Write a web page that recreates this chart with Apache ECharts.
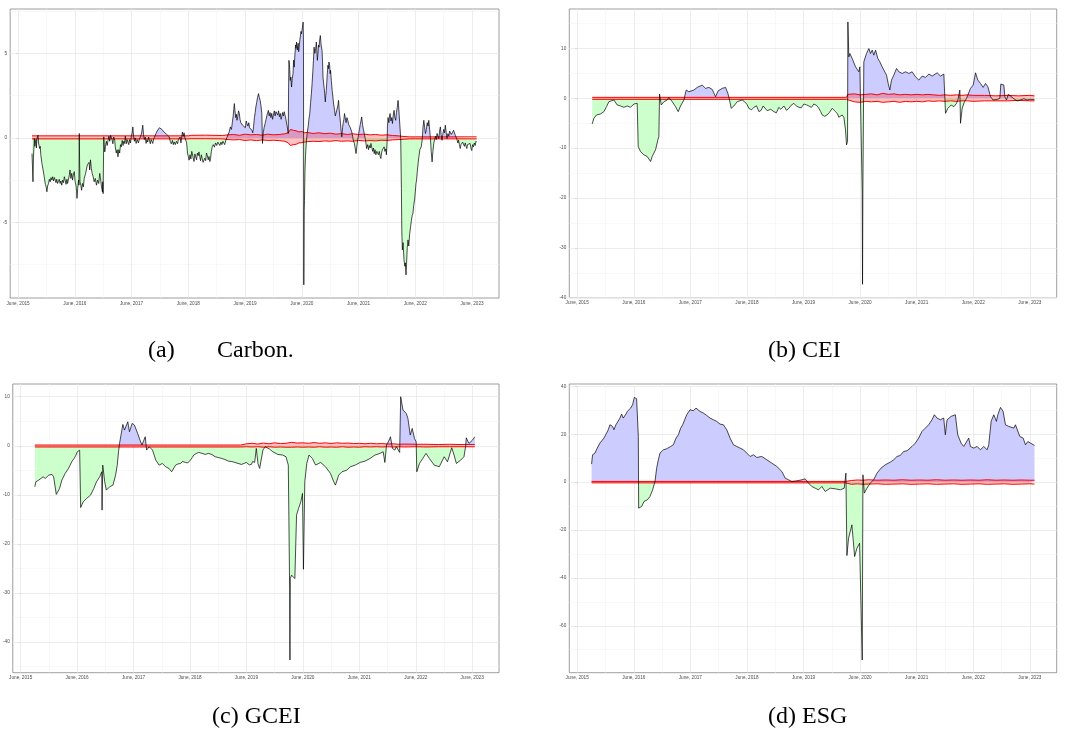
<!DOCTYPE html>
<html><head><meta charset="utf-8">
<script src="https://cdn.jsdelivr.net/npm/echarts@6/dist/echarts.min.js"></script>
<style>html,body{margin:0;padding:0;background:#fff}#c{width:1065px;height:743px}</style>
</head><body><div id="c"></div><script>
// x values: years since June 2015
const xTicks = [0,1,2,3,4,5,6,7,8];
const xTickLabels = ['June, 2015','June, 2016','June, 2017','June, 2018','June, 2019','June, 2020','June, 2021','June, 2022','June, 2023'];
const xMinor = [0.5,1.5,2.5,3.5,4.5,5.5,6.5,7.5];

const yTicksCarbon = [5,0,-5];        const yMinorCarbon = [7.5,2.5,-2.5,-7.5];
const yTicksCEI = [10,0,-10,-20,-30,-40]; const yMinorCEI = [15,5,-5,-15,-25,-35];
const yTicksGCEI = [10,0,-10,-20,-30,-40]; const yMinorGCEI = [5,-5,-15,-25,-35,-45];
const yTicksESG = [40,20,0,-20,-40,-60]; const yMinorESG = [30,10,-10,-30,-50,-70];

const captions = ['(a)', 'Carbon.', '(b) CEI', '(c) GCEI', '(d) ESG'];

const carbon = [[0.245,-0.93],[0.252,-1.6],[0.262,-2.6],[0.27,-1.2],[0.286,-0.04],[0.295,-0.5],[0.303,-0.33],[0.315,-0.1],[0.322,-0.6],[0.332,-0.04],[0.35,0.16],[0.36,-0.3],[0.379,-0.63],[0.39,-0.5],[0.4,-1.0],[0.42,-1.52],[0.44,-1.9],[0.46,-2.3],[0.48,-2.75],[0.494,-2.9],[0.507,-3.19],[0.52,-2.85],[0.536,-2.7],[0.55,-2.45],[0.565,-2.6],[0.58,-2.35],[0.594,-2.5],[0.61,-2.3],[0.625,-2.55],[0.64,-2.35],[0.653,-2.4],[0.668,-2.65],[0.68,-2.45],[0.695,-2.7],[0.711,-2.6],[0.725,-2.45],[0.74,-2.7],[0.755,-2.55],[0.769,-2.8],[0.785,-2.5],[0.8,-2.65],[0.815,-2.3],[0.828,-2.4],[0.845,-2.75],[0.86,-2.45],[0.872,-2.7],[0.886,-2.6],[0.9,-2.25],[0.915,-1.9],[0.93,-2.4],[0.945,-2.1],[0.96,-2.5],[0.973,-2.2],[0.99,-2.0],[1.005,-2.6],[1.02,-2.8],[1.031,-3.2],[1.037,-3.58],[1.05,-3.0],[1.066,-2.5],[1.072,-2.8],[1.078,0.26],[1.084,-1.5],[1.09,-2.6],[1.105,-2.8],[1.119,-3.1],[1.135,-2.7],[1.15,-2.9],[1.165,-2.4],[1.177,-2.5],[1.19,-2.1],[1.205,-2.0],[1.22,-1.6],[1.235,-1.7],[1.25,-1.45],[1.262,-1.9],[1.276,-1.3],[1.29,-1.8],[1.305,-2.1],[1.323,-2.3],[1.34,-2.6],[1.36,-2.4],[1.381,-2.8],[1.4,-2.5],[1.42,-2.7],[1.439,-2.1],[1.455,-2.5],[1.47,-2.9],[1.486,-3.2],[1.492,-2.6],[1.498,-3.3],[1.509,0.06],[1.518,-0.4],[1.527,-0.83],[1.54,-0.5],[1.555,-0.2],[1.57,-0.45],[1.585,-0.14],[1.6,0.1],[1.615,-0.2],[1.63,0.15],[1.643,0.26],[1.655,-0.1],[1.67,-0.35],[1.685,0.05],[1.702,-0.14],[1.715,-0.6],[1.73,-0.9],[1.745,-0.7],[1.76,-1.12],[1.775,-0.7],[1.79,-0.9],[1.805,-0.4],[1.818,-0.53],[1.835,-0.15],[1.85,-0.45],[1.862,-0.2],[1.876,-0.33],[1.89,0.1],[1.905,-0.35],[1.92,-0.1],[1.935,-0.14],[1.95,-0.4],[1.965,-0.1],[1.98,-0.3],[1.995,0.1],[2.01,0.3],[2.022,0.65],[2.035,0.1],[2.05,-0.2],[2.065,0.0],[2.08,-0.33],[2.1,-0.1],[2.12,-0.3],[2.14,-0.05],[2.16,0.1],[2.18,0.35],[2.197,0.75],[2.21,0.2],[2.225,-0.1],[2.24,0.05],[2.255,-0.33],[2.27,-0.1],[2.285,-0.25],[2.3,0.05],[2.314,-0.14],[2.33,-0.35],[2.345,-0.1],[2.36,-0.2],[2.372,-0.33],[2.39,-0.05],[2.41,0.1],[2.43,0.26],[2.45,0.4],[2.47,0.5],[2.49,0.6],[2.505,0.55],[2.517,0.69],[2.535,0.5],[2.55,0.55],[2.57,0.35],[2.59,0.4],[2.605,0.35],[2.62,0.2],[2.64,0.25],[2.663,0.06],[2.68,-0.2],[2.7,-0.35],[2.72,-0.15],[2.735,-0.4],[2.751,-0.24],[2.77,-0.4],[2.79,-0.2],[2.81,-0.35],[2.825,-0.1],[2.838,-0.14],[2.855,0.05],[2.87,-0.3],[2.885,0.1],[2.896,0.35],[2.91,0.1],[2.925,0.3],[2.94,0.0],[2.955,0.06],[2.97,-0.3],[2.985,-0.9],[3.0,-1.1],[3.013,-1.32],[3.03,-1.0],[3.045,-1.25],[3.06,-0.8],[3.071,-0.93],[3.085,-1.2],[3.1,-1.4],[3.115,-0.95],[3.129,-1.12],[3.145,-1.3],[3.16,-0.9],[3.175,-1.05],[3.188,-0.83],[3.2,-1.1],[3.215,-1.35],[3.23,-1.0],[3.245,-1.25],[3.26,-1.45],[3.275,-1.52],[3.29,-1.2],[3.305,-1.35],[3.32,-0.9],[3.333,-1.02],[3.35,-1.3],[3.365,-1.1],[3.38,-1.4],[3.392,-1.22],[3.405,-0.8],[3.421,-0.53],[3.44,-0.4],[3.46,-0.55],[3.48,-0.3],[3.5,-0.45],[3.52,-0.25],[3.537,-0.33],[3.555,-0.45],[3.575,-0.25],[3.59,-0.4],[3.61,-0.2],[3.625,-0.24],[3.64,-0.4],[3.66,-0.15],[3.683,-0.04],[3.7,0.2],[3.72,0.35],[3.741,0.65],[3.76,0.5],[3.775,0.9],[3.79,1.3],[3.801,1.7],[3.811,2.03],[3.822,1.6],[3.835,1.2],[3.846,1.4],[3.858,1.04],[3.87,1.25],[3.885,1.6],[3.899,1.44],[3.91,1.1],[3.925,0.9],[3.94,1.0],[3.955,0.75],[3.974,0.65],[3.99,0.8],[4.005,0.6],[4.02,1.0],[4.033,0.85],[4.05,0.7],[4.065,0.9],[4.08,0.6],[4.1,0.5],[4.12,0.45],[4.135,0.3],[4.149,0.65],[4.165,1.2],[4.178,1.5],[4.19,1.83],[4.205,2.1],[4.22,2.4],[4.237,2.62],[4.25,2.4],[4.266,2.22],[4.28,1.9],[4.295,1.44],[4.307,-0.33],[4.32,0.3],[4.335,0.6],[4.353,0.85],[4.37,1.1],[4.39,1.4],[4.411,1.63],[4.425,1.3],[4.44,1.5],[4.455,1.2],[4.47,1.45],[4.485,1.1],[4.499,1.34],[4.515,1.6],[4.53,1.3],[4.545,1.55],[4.557,1.54],[4.575,1.35],[4.59,1.6],[4.605,1.25],[4.62,1.45],[4.635,1.1],[4.645,1.24],[4.66,1.5],[4.675,1.3],[4.69,1.55],[4.703,1.44],[4.72,1.1],[4.735,0.8],[4.744,0.65],[4.755,0.4],[4.761,0.26],[4.767,3.0],[4.773,4.59],[4.785,4.2],[4.795,3.4],[4.807,3.6],[4.819,3.01],[4.83,3.5],[4.845,3.8],[4.855,4.6],[4.866,4.19],[4.878,4.9],[4.89,5.5],[4.898,5.3],[4.907,5.67],[4.92,5.2],[4.935,5.6],[4.945,5.1],[4.953,5.37],[4.965,5.8],[4.978,5.9],[4.985,6.3],[4.994,6.16],[5.005,6.4],[5.015,6.5],[5.023,6.85],[5.029,5.8],[5.035,-8.7],[5.041,-4.3],[5.047,-3.7],[5.055,-2.0],[5.064,-1.12],[5.073,-0.6],[5.082,-0.14],[5.095,0.3],[5.111,0.65],[5.125,1.1],[5.14,1.44],[5.155,2.1],[5.168,2.6],[5.181,3.21],[5.195,4.0],[5.205,4.6],[5.216,5.37],[5.23,5.0],[5.245,5.3],[5.256,5.67],[5.265,5.2],[5.274,4.59],[5.285,5.0],[5.294,5.5],[5.303,5.37],[5.315,5.8],[5.326,6.06],[5.34,5.5],[5.356,5.18],[5.365,4.5],[5.373,3.6],[5.385,3.2],[5.395,2.9],[5.402,2.62],[5.414,2.13],[5.422,2.5],[5.431,2.81],[5.44,3.3],[5.449,3.8],[5.46,4.3],[5.47,4.1],[5.478,4.49],[5.49,4.3],[5.498,3.8],[5.507,4.0],[5.52,3.4],[5.535,2.8],[5.548,2.42],[5.56,2.0],[5.57,1.8],[5.577,1.63],[5.59,1.3],[5.606,1.24],[5.62,1.7],[5.635,1.9],[5.647,2.22],[5.66,1.6],[5.672,1.2],[5.682,0.85],[5.693,0.4],[5.705,0.06],[5.718,0.6],[5.73,0.9],[5.742,1.1],[5.752,1.44],[5.765,1.2],[5.78,0.9],[5.795,1.2],[5.81,1.04],[5.825,0.8],[5.84,0.9],[5.855,0.6],[5.868,0.5],[5.88,0.35],[5.895,0.1],[5.91,-0.2],[5.927,-0.33],[5.94,-0.6],[5.956,-0.93],[5.97,-0.5],[5.985,-0.1],[6.0,0.2],[6.015,0.5],[6.03,0.8],[6.042,1.0],[6.055,1.24],[6.07,0.8],[6.085,0.5],[6.101,0.26],[6.115,0.0],[6.13,-0.3],[6.142,-0.63],[6.16,-0.4],[6.175,-0.7],[6.19,-0.45],[6.205,-0.6],[6.218,-0.33],[6.235,-0.6],[6.25,-0.8],[6.262,-0.6],[6.276,-0.93],[6.29,-0.7],[6.305,-1.0],[6.32,-0.8],[6.335,-0.73],[6.35,-1.0],[6.365,-0.8],[6.38,-1.1],[6.393,-1.22],[6.405,-0.9],[6.42,-0.7],[6.435,-0.8],[6.451,-0.53],[6.465,-0.8],[6.48,-0.65],[6.49,-1.0],[6.498,-0.93],[6.504,-0.2],[6.509,0.65],[6.52,1.2],[6.535,0.9],[6.545,1.3],[6.556,1.44],[6.57,1.0],[6.585,1.2],[6.597,0.85],[6.61,1.3],[6.626,1.63],[6.64,1.2],[6.655,1.04],[6.668,1.5],[6.682,1.8],[6.696,2.22],[6.705,1.9],[6.715,2.0],[6.731,1.83],[6.743,-0.04],[6.755,-3.0],[6.762,-5.5],[6.772,-6.63],[6.785,-6.2],[6.801,-7.22],[6.815,-7.6],[6.825,-7.4],[6.836,-8.11],[6.845,-7.5],[6.858,-6.5],[6.871,-6.04],[6.885,-6.4],[6.9,-5.7],[6.917,-5.26],[6.93,-4.9],[6.945,-4.6],[6.958,-4.47],[6.972,-4.0],[6.987,-3.68],[7.0,-3.2],[7.012,-2.7],[7.022,-2.5],[7.035,-2.0],[7.05,-1.5],[7.063,-1.12],[7.08,-0.7],[7.095,-0.8],[7.104,-0.53],[7.121,-0.14],[7.135,0.6],[7.15,1.04],[7.165,0.6],[7.179,0.26],[7.195,0.5],[7.21,0.9],[7.225,0.7],[7.238,1.04],[7.255,0.4],[7.267,-0.04],[7.28,-0.8],[7.296,-1.42],[7.31,-0.8],[7.325,-0.33],[7.34,-0.1],[7.355,0.1],[7.37,-0.1],[7.383,0.26],[7.398,0.1],[7.413,-0.04],[7.428,0.4],[7.442,0.65],[7.455,0.2],[7.471,-0.14],[7.485,0.2],[7.5,0.5],[7.515,0.3],[7.529,0.75],[7.545,0.3],[7.558,-0.04],[7.575,0.25],[7.59,0.1],[7.605,0.4],[7.617,0.35],[7.635,0.2],[7.65,0.3],[7.662,0.1],[7.675,0.45],[7.69,0.3],[7.704,0.16],[7.72,0.05],[7.735,-0.1],[7.75,-0.3],[7.762,-0.14],[7.777,-0.4],[7.792,-0.63],[7.805,-0.4],[7.82,-0.5],[7.835,-0.25],[7.85,-0.33],[7.865,-0.5],[7.88,-0.3],[7.895,-0.5],[7.908,-0.63],[7.92,-0.4],[7.935,-0.3],[7.95,-0.5],[7.966,-0.33],[7.98,-0.6],[7.995,-0.75],[8.01,-0.4],[8.024,-0.53],[8.04,-0.3],[8.055,-0.45],[8.07,-0.2],[8.082,-0.24]];

const cei = [[0.265,-5.13],[0.295,-4.0],[0.342,-3.33],[0.412,-3.13],[0.471,-2.67],[0.518,-1.67],[0.56,-0.67],[0.589,-1.0],[0.648,-0.33],[0.707,-1.33],[0.766,-1.53],[0.825,-1.8],[0.884,-1.53],[0.943,-1.8],[1.001,-1.13],[1.06,-1.0],[1.078,-9.67],[1.119,-10.67],[1.178,-11.33],[1.237,-11.67],[1.296,-12.67],[1.325,-11.67],[1.384,-10.33],[1.426,-8.33],[1.443,-7.67],[1.455,0.87],[1.485,-1.33],[1.532,-0.67],[1.591,-0.33],[1.62,0.2],[1.679,-0.67],[1.738,-1.67],[1.785,-2.67],[1.826,-1.53],[1.885,-0.33],[1.926,1.67],[1.973,1.33],[2.062,1.67],[2.121,2.2],[2.209,2.67],[2.268,2.0],[2.327,2.2],[2.386,1.8],[2.445,0.33],[2.492,1.53],[2.563,2.0],[2.622,2.2],[2.663,1.0],[2.692,-0.33],[2.722,-2.0],[2.769,-1.53],[2.828,-0.67],[2.916,-0.33],[2.957,-0.67],[3.0,-1.2],[3.034,-2.0],[3.08,-2.3],[3.122,-1.8],[3.17,-1.5],[3.211,-2.67],[3.25,-2.4],[3.287,-1.53],[3.32,-1.9],[3.358,-2.47],[3.42,-2.2],[3.476,-2.67],[3.52,-2.9],[3.564,-1.8],[3.6,-2.2],[3.653,-1.53],[3.7,-2.4],[3.741,-2.0],[3.78,-1.4],[3.829,-1.0],[3.87,-1.5],[3.918,-1.8],[3.96,-1.9],[4.006,-1.13],[4.05,-1.3],[4.094,-1.53],[4.14,-1.8],[4.183,-1.13],[4.23,-1.4],[4.271,-2.0],[4.3,-2.6],[4.33,-3.33],[4.37,-3.6],[4.418,-3.33],[4.46,-2.8],[4.507,-2.0],[4.54,-2.2],[4.566,-2.67],[4.6,-3.1],[4.624,-3.8],[4.65,-3.5],[4.683,-3.33],[4.7,-3.2],[4.713,-3.8],[4.742,-6.33],[4.76,-9.33],[4.778,-8.67],[4.784,15.33],[4.801,8.33],[4.819,9.0],[4.86,8.0],[4.89,7.67],[4.919,6.33],[4.948,6.67],[4.978,5.33],[4.996,6.33],[5.019,6.67],[5.037,-18.6],[5.043,-37.3],[5.049,-18.6],[5.066,7.33],[5.113,9.0],[5.155,10.0],[5.184,9.0],[5.214,9.67],[5.243,8.67],[5.273,9.67],[5.314,8.0],[5.349,7.33],[5.39,6.33],[5.42,6.0],[5.467,4.67],[5.496,3.0],[5.526,1.67],[5.555,3.67],[5.596,4.67],[5.644,6.0],[5.685,5.33],[5.744,5.0],[5.803,5.33],[5.862,5.0],[5.92,5.33],[5.979,4.33],[6.038,3.67],[6.097,4.47],[6.156,4.2],[6.215,4.87],[6.274,4.47],[6.362,5.13],[6.421,4.47],[6.48,4.87],[6.492,4.67],[6.51,-3.0],[6.551,-2.0],[6.61,-1.33],[6.657,-1.67],[6.704,-1.0],[6.728,-0.33],[6.763,1.67],[6.775,-5.0],[6.804,-2.0],[6.845,-0.67],[6.881,0.0],[6.91,0.33],[6.951,2.0],[6.999,2.67],[7.04,5.13],[7.081,3.67],[7.128,3.0],[7.175,2.2],[7.217,3.0],[7.258,2.33],[7.305,0.33],[7.352,-0.33],[7.423,-0.2],[7.47,0.0],[7.487,2.87],[7.541,2.67],[7.558,0.33],[7.588,-0.33],[7.617,0.8],[7.658,0.47],[7.717,-0.07],[7.776,-0.53],[7.835,-0.33],[7.894,-0.07],[7.953,-0.33],[8.012,-0.2],[8.082,-0.27]];

const gcei = [[0.251,-8.37],[0.269,-7.35],[0.321,-7.0],[0.35,-7.2],[0.397,-6.33],[0.438,-6.67],[0.496,-5.99],[0.555,-5.85],[0.584,-6.33],[0.596,-5.99],[0.613,-6.67],[0.631,-9.93],[0.654,-9.73],[0.689,-8.71],[0.73,-7.0],[0.788,-5.65],[0.847,-4.63],[0.905,-3.27],[0.946,-2.59],[0.981,-1.9],[1.004,-1.22],[1.045,-0.9],[1.063,-12.6],[1.109,-11.43],[1.168,-10.75],[1.238,-10.07],[1.296,-8.71],[1.343,-7.35],[1.401,-6.33],[1.436,-5.31],[1.442,-13.13],[1.454,-3.95],[1.489,-7.35],[1.518,-9.05],[1.577,-8.37],[1.635,-8.03],[1.682,-5.99],[1.711,-3.95],[1.734,-1.22],[1.752,0.48],[1.781,0.82],[1.81,4.35],[1.839,3.2],[1.898,4.9],[1.927,2.86],[1.974,4.56],[2.015,4.22],[2.073,2.52],[2.114,1.16],[2.149,0.14],[2.207,1.84],[2.231,-0.88],[2.277,-0.2],[2.336,-0.88],[2.394,-2.93],[2.453,-3.95],[2.511,-3.61],[2.569,-4.29],[2.628,-4.63],[2.674,-5.31],[2.745,-3.95],[2.79,-3.7],[2.832,-3.61],[2.87,-3.2],[2.92,-3.4],[2.96,-3.5],[3.007,-2.93],[3.04,-2.4],[3.066,-1.9],[3.11,-1.6],[3.153,-1.36],[3.2,-1.5],[3.27,-1.77],[3.3,-1.9],[3.328,-1.56],[3.39,-1.8],[3.445,-2.24],[3.5,-2.4],[3.562,-2.59],[3.62,-2.8],[3.679,-3.13],[3.73,-3.2],[3.796,-3.4],[3.85,-3.6],[3.912,-3.81],[3.96,-3.6],[4.0,-3.4],[4.05,-3.9],[4.088,-3.81],[4.11,-3.2],[4.146,-3.4],[4.175,-0.54],[4.204,-3.61],[4.234,-4.63],[4.292,-0.88],[4.333,-0.2],[4.409,-0.68],[4.467,-1.22],[4.555,-1.77],[4.642,-1.9],[4.701,-2.24],[4.742,-3.95],[4.753,-15.5],[4.765,-29.1],[4.771,-43.7],[4.777,-27.1],[4.8,-26.4],[4.835,-26.05],[4.858,-27.1],[4.888,-14.15],[4.923,-12.8],[4.964,-11.43],[4.993,-9.73],[5.01,-25.2],[5.022,-16.2],[5.034,-7.35],[5.069,-3.61],[5.109,-1.9],[5.168,-2.59],[5.226,-3.95],[5.314,-3.4],[5.401,-4.29],[5.489,-5.65],[5.547,-7.35],[5.577,-8.03],[5.635,-5.99],[5.693,-5.31],[5.781,-4.97],[5.839,-4.29],[5.927,-3.95],[6.015,-3.4],[6.102,-3.13],[6.19,-2.59],[6.277,-1.9],[6.365,-1.56],[6.423,-1.22],[6.453,-3.4],[6.482,0.14],[6.528,1.16],[6.552,1.84],[6.587,-0.54],[6.628,-0.88],[6.657,-0.2],[6.715,-1.36],[6.733,10.0],[6.774,7.28],[6.832,6.6],[6.861,5.58],[6.902,2.18],[6.937,3.54],[6.978,1.5],[7.007,0.82],[7.019,-5.31],[7.066,-3.61],[7.124,-2.59],[7.182,-1.56],[7.241,-2.59],[7.328,-3.95],[7.416,-4.29],[7.504,-2.24],[7.562,-3.27],[7.591,-2.93],[7.638,-0.41],[7.679,-1.9],[7.72,-3.61],[7.796,-2.93],[7.854,-2.24],[7.883,-0.2],[7.895,1.63],[7.942,0.48],[8.0,1.09],[8.047,1.84]];

const esg = [[0.254,7.53],[0.271,11.43],[0.313,12.13],[0.354,14.22],[0.401,16.31],[0.431,16.31],[0.472,18.4],[0.519,20.49],[0.549,21.88],[0.578,23.97],[0.625,23.28],[0.649,21.88],[0.684,23.97],[0.708,23.28],[0.755,26.76],[0.785,28.43],[0.814,26.76],[0.861,28.43],[0.885,29.55],[0.944,30.94],[0.979,32.33],[1.009,35.4],[1.05,34.84],[1.074,34.43],[1.08,19.09],[1.086,-10.87],[1.097,-11.57],[1.139,-10.17],[1.18,-8.08],[1.239,-7.39],[1.286,-5.99],[1.333,-3.21],[1.375,0.28],[1.404,5.85],[1.434,9.34],[1.463,12.13],[1.522,13.52],[1.581,13.94],[1.652,14.91],[1.699,15.61],[1.746,18.4],[1.788,19.79],[1.829,22.58],[1.864,23.97],[1.935,28.15],[1.994,30.24],[2.053,29.83],[2.1,30.94],[2.171,29.55],[2.23,28.85],[2.289,27.87],[2.348,26.76],[2.407,26.06],[2.466,25.37],[2.525,24.25],[2.584,23.97],[2.643,21.88],[2.702,18.4],[2.761,15.61],[2.82,14.91],[2.879,14.22],[2.938,13.52],[2.997,12.13],[3.056,10.73],[3.115,11.43],[3.174,10.31],[3.263,10.73],[3.351,9.34],[3.44,7.94],[3.528,6.55],[3.617,4.46],[3.676,1.67],[3.735,0.98],[3.794,0.28],[3.882,0.56],[3.971,0.98],[4.029,1.39],[4.088,-0.42],[4.147,-1.81],[4.206,-2.51],[4.265,-3.21],[4.324,-1.81],[4.383,-3.9],[4.472,-2.51],[4.56,-2.79],[4.649,-3.21],[4.72,-2.51],[4.749,3.76],[4.767,-30.66],[4.796,-23.41],[4.855,-17.84],[4.903,-31.08],[4.944,-27.6],[4.991,-25.5],[5.015,-26.2],[5.038,-74.3],[5.05,3.07],[5.074,-4.6],[5.121,-2.51],[5.18,-0.42],[5.239,0.98],[5.298,3.76],[5.369,5.85],[5.445,7.25],[5.534,8.36],[5.593,9.34],[5.652,10.73],[5.711,11.15],[5.77,12.82],[5.829,13.1],[5.917,14.91],[5.976,16.31],[6.035,18.4],[6.094,21.18],[6.153,22.58],[6.212,23.97],[6.271,26.06],[6.313,28.15],[6.36,26.76],[6.419,26.06],[6.478,26.76],[6.507,19.79],[6.537,26.06],[6.608,27.46],[6.684,28.15],[6.726,19.79],[6.785,16.31],[6.832,14.91],[6.92,18.4],[6.95,14.91],[7.009,14.22],[7.068,14.91],[7.127,13.52],[7.186,14.91],[7.245,13.52],[7.274,15.61],[7.316,25.37],[7.363,28.15],[7.41,25.37],[7.434,28.15],[7.481,31.22],[7.528,29.55],[7.569,23.97],[7.628,23.28],[7.717,22.58],[7.746,23.97],[7.823,19.09],[7.882,18.4],[7.923,15.61],[7.965,16.98],[8.012,16.31],[8.083,15.33]];

// red bands: [t, upper, lower]
const bandCarbon = [[0.245,0.12,-0.06],[1.0,0.12,-0.06],[2.0,0.12,-0.06],[3.0,0.12,-0.06],[3.05,0.15,-0.05],[3.3,0.16,-0.05],[3.6,0.14,-0.06],[3.7,0.18,-0.1],[3.8,0.2,-0.12],[3.9,0.15,-0.1],[4.0,0.22,-0.15],[4.1,0.18,-0.12],[4.2,0.2,-0.16],[4.3,0.16,-0.12],[4.4,0.22,-0.15],[4.5,0.18,-0.14],[4.6,0.2,-0.16],[4.7,0.24,-0.2],[4.76,0.3,-0.3],[4.8,0.5,-0.45],[4.85,0.45,-0.4],[4.9,0.42,-0.38],[4.95,0.35,-0.3],[5.0,0.38,-0.28],[5.05,0.3,-0.25],[5.1,0.32,-0.22],[5.2,0.26,-0.2],[5.3,0.3,-0.22],[5.4,0.25,-0.18],[5.5,0.28,-0.2],[5.6,0.22,-0.16],[5.7,0.25,-0.2],[5.8,0.2,-0.18],[5.9,0.24,-0.2],[6.0,0.2,-0.15],[6.1,0.22,-0.18],[6.2,0.18,-0.16],[6.3,0.2,-0.18],[6.4,0.16,-0.14],[6.5,0.18,-0.15],[6.6,0.14,-0.12],[6.7,0.12,-0.1],[6.8,0.08,-0.08],[6.9,0.06,-0.06],[7.0,0.06,-0.06],[7.5,0.06,-0.06],[8.082,0.06,-0.06]];
const bandCEI = [[0.265,0.2,-0.2],[4.76,0.2,-0.2],[4.78,0.8,-0.6],[4.9,0.9,-0.7],[5.0,0.7,-0.8],[5.1,0.8,-0.6],[5.2,0.9,-0.7],[5.3,0.7,-0.6],[5.4,1.0,-0.8],[5.5,0.8,-0.7],[5.6,0.9,-0.6],[5.7,0.7,-0.8],[5.8,0.8,-0.6],[5.9,0.7,-0.7],[6.0,0.8,-0.6],[6.1,0.7,-0.7],[6.2,0.8,-0.5],[6.3,0.7,-0.6],[6.4,0.6,-0.5],[6.5,0.7,-0.6],[6.6,0.6,-0.5],[6.7,0.7,-0.6],[6.8,0.6,-0.5],[6.9,0.7,-0.5],[7.0,0.6,-0.6],[7.2,0.6,-0.5],[7.4,0.5,-0.5],[7.6,0.6,-0.5],[7.8,0.5,-0.4],[8.0,0.6,-0.5],[8.082,0.5,-0.5]];
const bandGCEI = [[0.251,0.15,-0.25],[3.9,0.15,-0.25],[4.0,0.4,-0.2],[4.1,0.5,-0.25],[4.2,0.35,-0.2],[4.3,0.55,-0.3],[4.4,0.4,-0.2],[4.5,0.6,-0.3],[4.6,0.45,-0.25],[4.7,0.5,-0.3],[4.8,0.7,-0.3],[4.9,0.55,-0.25],[5.0,0.6,-0.3],[5.1,0.5,-0.25],[5.2,0.65,-0.3],[5.3,0.5,-0.2],[5.4,0.6,-0.3],[5.5,0.45,-0.25],[5.6,0.6,-0.3],[5.7,0.5,-0.2],[5.8,0.55,-0.3],[5.9,0.45,-0.25],[6.0,0.5,-0.3],[6.1,0.4,-0.2],[6.2,0.5,-0.25],[6.3,0.4,-0.2],[6.4,0.45,-0.25],[6.5,0.35,-0.2],[6.6,0.4,-0.25],[6.7,0.3,-0.2],[6.8,0.35,-0.25],[7.0,0.3,-0.2],[7.2,0.3,-0.25],[7.4,0.25,-0.2],[7.6,0.3,-0.2],[7.8,0.25,-0.2],[8.047,0.25,-0.2]];
const bandESG = [[0.254,0.3,-0.3],[4.74,0.3,-0.3],[4.75,0.9,-0.8],[4.85,0.7,-0.9],[4.95,0.9,-0.7],[5.05,0.8,-0.9],[5.15,1.0,-0.8],[5.3,0.8,-0.7],[5.45,0.9,-0.9],[5.6,0.8,-0.8],[5.75,1.0,-0.7],[5.9,0.8,-0.9],[6.05,0.9,-0.8],[6.2,0.8,-0.7],[6.35,1.0,-0.9],[6.5,0.8,-0.8],[6.65,0.9,-0.7],[6.8,0.8,-0.9],[6.95,0.9,-0.8],[7.1,0.8,-0.7],[7.25,1.0,-0.9],[7.4,0.8,-0.8],[7.55,0.9,-0.7],[7.7,0.8,-0.9],[7.85,0.9,-0.8],[8.0,0.8,-0.7],[8.083,0.8,-0.8]];

const panels = [
  {data: carbon, band: bandCarbon, yMin: -9.48, yMax: 7.63, yMajor: yTicksCarbon, yMinor: yMinorCarbon, pos: {left: 6.3, top: 9, width: 492.7, height: 289}},
  {data: cei, band: bandCEI, yMin: -40, yMax: 17.93, yMajor: yTicksCEI, yMinor: yMinorCEI, pos: {left: 569.3, top: 9, width: 487.4, height: 288.7}},
  {data: gcei, band: bandGCEI, yMin: -46.3, yMax: 12.6, yMajor: yTicksGCEI, yMinor: yMinorGCEI, pos: {left: 8.3, top: 384, width: 490.7, height: 288.7}},
  {data: esg, band: bandESG, yMin: -79.6, yMax: 41.0, yMajor: yTicksESG, yMinor: yMinorESG, pos: {left: 569.3, top: 384, width: 487.4, height: 288.7}}
];

const POS_FILL = '#ccccff', NEG_FILL = '#ccffcc';
const grid = [], xAxis = [], yAxis = [], series = [];
const labelStyle = {fontSize: 4.7, color: '#4d4d4d', fontFamily: 'Liberation Sans', margin: 3};
const tickStyle = {show: true, length: 2, inside: false, lineStyle: {color: '#555', width: 0.6}};
const majorLine = {color: '#e8e8e8', width: 0.8, type: 'solid'};
const minorLine = {color: '#f3f3f3', width: 0.6, type: 'solid'};

panels.forEach((p, i) => {
  grid.push(Object.assign({show: true, borderColor: '#858585', borderWidth: 0.8, backgroundColor: '#fff', containLabel: false}, p.pos));
  xAxis.push({type: 'value', gridIndex: i, min: -0.14, max: 8.475,
    axisLine: {show: false}, splitLine: {show: false},
    axisTick: Object.assign({customValues: xTicks}, tickStyle),
    axisLabel: Object.assign({show: true, customValues: xTicks, formatter: v => { const k = xTicks.indexOf(v); return k >= 0 ? xTickLabels[k] : ''; }}, labelStyle)});
  yAxis.push({type: 'value', gridIndex: i, min: p.yMin, max: p.yMax,
    axisLine: {show: false}, splitLine: {show: false},
    axisTick: Object.assign({customValues: p.yMajor}, tickStyle),
    axisLabel: Object.assign({show: true, customValues: p.yMajor, formatter: v => String(v)}, labelStyle)});
  const gl = [];
  xMinor.forEach(v => gl.push({xAxis: v, lineStyle: minorLine}));
  p.yMinor.forEach(v => gl.push({yAxis: v, lineStyle: minorLine}));
  xTicks.forEach(v => gl.push({xAxis: v, lineStyle: majorLine}));
  p.yMajor.forEach(v => gl.push({yAxis: v, lineStyle: majorLine}));
  // area between series and zero: fill colour switches at zero (gradient relative to area bbox)
  const vals = p.data.map(d => d[1]);
  const vMax = Math.max(0, ...vals), vMin = Math.min(0, ...vals);
  const f = vMax / (vMax - vMin);
  const fill = new echarts.graphic.LinearGradient(0, 0, 0, 1, [
    {offset: 0, color: POS_FILL}, {offset: f, color: POS_FILL},
    {offset: f, color: NEG_FILL}, {offset: 1, color: NEG_FILL}]);
  series.push({type: 'line', xAxisIndex: i, yAxisIndex: i, data: p.data, symbol: 'none', silent: true, z: 2,
    lineStyle: {width: 0, color: 'rgba(0,0,0,0)'}, areaStyle: {opacity: 1, color: fill},
    markLine: {silent: true, z: 1, symbol: ['none', 'none'], label: {show: false}, animation: false, data: gl}});
  // red bands
  series.push({type: 'line', xAxisIndex: i, yAxisIndex: i, data: p.band.map(b => [b[0], b[1]]), symbol: 'none', silent: true, z: 3,
    lineStyle: {color: '#ff0000', width: 1.0}, areaStyle: {color: 'rgba(255,0,0,0.35)'}});
  series.push({type: 'line', xAxisIndex: i, yAxisIndex: i, data: p.band.map(b => [b[0], b[2]]), symbol: 'none', silent: true, z: 3,
    lineStyle: {color: '#ff0000', width: 1.0}, areaStyle: {color: 'rgba(255,0,0,0.35)'}});
  // black line
  series.push({type: 'line', xAxisIndex: i, yAxisIndex: i, data: p.data, symbol: 'none', silent: true, z: 4,
    lineStyle: {color: '#000', width: 0.7}});
});

const capFont = '24px "Liberation Serif", "Times New Roman", serif';
const graphic = [
  {type: 'text', left: 148, top: 339, style: {text: captions[0], font: capFont, fill: '#000'}},
  {type: 'text', left: 217, top: 339, style: {text: captions[1], font: capFont, fill: '#000'}},
  {type: 'text', left: 768, top: 339, style: {text: captions[2], font: capFont, fill: '#000'}},
  {type: 'text', left: 212, top: 705, style: {text: captions[3], font: capFont, fill: '#000'}},
  {type: 'text', left: 768, top: 705, style: {text: captions[4], font: capFont, fill: '#000'}}
];

const chart = echarts.init(document.getElementById('c'));
chart.setOption({animation: false, backgroundColor: '#fff', grid, xAxis, yAxis, series, graphic});
</script></body></html>
